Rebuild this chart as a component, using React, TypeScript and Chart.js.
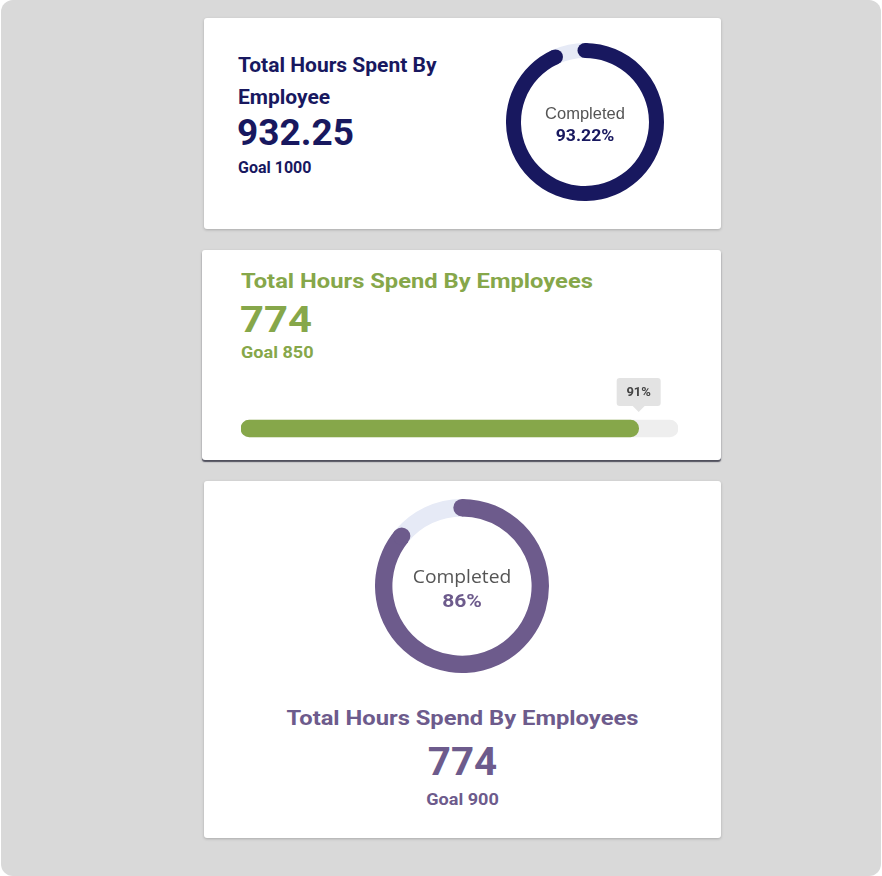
import React, { useEffect, useRef } from "react";
import { Chart, registerables } from "chart.js";

Chart.register(...registerables);

// ---- data ----
const card1Labels = ["Completed", "Remaining"];
const card1Values = [93.22, 6.78];
const card1Hours = "932.25";
const card1Goal = 1000;

const card2Labels = ["Progress"];
const card2Values = [91];
const card2Track = [100];
const card2Hours = "774";
const card2Goal = 850;

const card3Labels = ["Completed", "Remaining"];
const card3Values = [86, 14];
const card3Hours = "774";
const card3Goal = 900;

const NAVY = "#18185f";
const GREEN = "#86a74a";
const PURPLE = "#6d5b8c";
const TRACK = "#e6eaf6";

// draws round caps at both ends of the first arc (like a round line cap)
const capPlugin = {
  id: "capPlugin",
  afterDatasetsDraw(chart: any) {
    const meta = chart.getDatasetMeta(0);
    const el = meta.data[0];
    if (!el) return;
    const p = el.getProps(["x", "y", "startAngle", "endAngle", "innerRadius", "outerRadius"], true);
    const mid = (p.innerRadius + p.outerRadius) / 2;
    const rad = (p.outerRadius - p.innerRadius) / 2;
    const ctx = chart.ctx;
    ctx.save();
    ctx.fillStyle = chart.data.datasets[0].backgroundColor[0];
    for (const a of [p.startAngle, p.endAngle]) {
      ctx.beginPath();
      ctx.arc(p.x + Math.cos(a) * mid, p.y + Math.sin(a) * mid, rad, 0, Math.PI * 2);
      ctx.fill();
    }
    ctx.restore();
  },
};

function Donut(props: { values: number[]; labels: string[]; color: string; size: number; cutout: string }) {
  const ref = useRef<HTMLCanvasElement | null>(null);
  useEffect(() => {
    if (!ref.current) return;
    const chart = new Chart(ref.current, {
      type: "doughnut",
      data: {
        labels: props.labels,
        datasets: [
          {
            data: props.values,
            backgroundColor: [props.color, TRACK],
            borderWidth: 0,
          },
        ],
      },
      options: {
        responsive: false,
        animation: false,
        cutout: props.cutout,
        plugins: { legend: { display: false }, tooltip: { enabled: false } },
        events: [],
      },
      plugins: [capPlugin],
    });
    return () => chart.destroy();
  }, []);
  return <canvas ref={ref} width={props.size} height={props.size} style={{ width: props.size, height: props.size, display: "block" }} />;
}

const tagPlugin = {
  id: "tagPlugin",
  afterDatasetsDraw(chart: any) {
    const meta = chart.getDatasetMeta(0);
    const el = meta.data[0];
    if (!el) return;
    const ctx = chart.ctx;
    const v = chart.data.datasets[0].data[0];
    const cx = el.x;
    const w = 44, h = 28, top = 5;
    const left = cx - w / 2;
    ctx.save();
    ctx.fillStyle = "#e3e3e3";
    ctx.beginPath();
    const r = 3;
    ctx.moveTo(left + r, top);
    ctx.lineTo(left + w - r, top);
    ctx.quadraticCurveTo(left + w, top, left + w, top + r);
    ctx.lineTo(left + w, top + h - r);
    ctx.quadraticCurveTo(left + w, top + h, left + w - r, top + h);
    ctx.lineTo(cx + 6, top + h);
    ctx.lineTo(cx, top + h + 6);
    ctx.lineTo(cx - 6, top + h);
    ctx.lineTo(left + r, top + h);
    ctx.quadraticCurveTo(left, top + h, left, top + h - r);
    ctx.lineTo(left, top + r);
    ctx.quadraticCurveTo(left, top, left + r, top);
    ctx.closePath();
    ctx.fill();
    ctx.fillStyle = "#444";
    ctx.font = "bold 13px Roboto";
    ctx.textAlign = "center";
    ctx.textBaseline = "middle";
    ctx.fillText(v + "%", cx, top + h / 2 + 1);
    ctx.restore();
  },
};

function ProgressBar() {
  const ref = useRef<HTMLCanvasElement | null>(null);
  useEffect(() => {
    if (!ref.current) return;
    const chart = new Chart(ref.current, {
      type: "bar",
      data: {
        labels: card2Labels,
        datasets: [
          {
            data: card2Values,
            backgroundColor: GREEN,
            borderRadius: 9,
            borderSkipped: false,
            barThickness: 17,
            order: 0,
          },
          {
            data: card2Track,
            backgroundColor: "#eeeeee",
            borderRadius: 9,
            borderSkipped: false,
            barThickness: 17,
            grouped: false,
            order: 1,
          } as any,
        ],
      },
      options: {
        indexAxis: "y",
        responsive: false,
        animation: false,
        layout: { padding: { top: 41, bottom: 0, left: 0, right: 0 } },
        scales: {
          x: { min: 0, max: 100, display: false },
          y: { display: false },
        },
        plugins: { legend: { display: false }, tooltip: { enabled: false } },
        events: [],
      },
      plugins: [tagPlugin],
    });
    return () => chart.destroy();
  }, []);
  return <canvas ref={ref} width={437} height={70} style={{ width: 437, height: 70, display: "block" }} />;
}

const abs = (s: React.CSSProperties): React.CSSProperties => ({ position: "absolute", ...s });
const wideL: React.CSSProperties = { transform: "scaleX(1.13)", transformOrigin: "left center", whiteSpace: "nowrap" };
const wideC: React.CSSProperties = { transform: "scaleX(1.13)", transformOrigin: "center center", whiteSpace: "nowrap" };

export default function App() {
  useEffect(() => {
    document.body.style.margin = "0";
    document.body.style.background = "#ffffff";
  }, []);
  const card: React.CSSProperties = {
    position: "absolute",
    background: "#fff",
    borderRadius: 3,
    boxShadow: "0 1px 3px rgba(0,0,0,0.22)",
  };
  const roboto = "Roboto, 'Noto Sans', sans-serif";
  return (
    <div style={{ position: "relative", width: 882, height: 876, fontFamily: roboto }}>
      <div style={abs({ left: 1, top: 0, width: 880, height: 876, background: "#d9d9d9", borderRadius: 12 })} />

      {/* card 1 */}
      <div style={{ ...card, left: 204, top: 18, width: 517, height: 211 }} />
      <div style={abs({ left: 238, top: 49, width: 260, color: NAVY, fontWeight: 700, fontSize: 21, lineHeight: "32px" })}>
        Total Hours Spent By Employee
      </div>
      <div style={abs({ left: 237, top: 111, color: NAVY, fontWeight: 700, fontSize: 37, lineHeight: "44px" })}>{card1Hours}</div>
      <div style={abs({ left: 238, top: 158, color: NAVY, fontWeight: 700, fontSize: 16, lineHeight: "20px" })}>Goal {card1Goal}</div>
      <div style={abs({ left: 506, top: 43 })}>
        <Donut values={card1Values} labels={card1Labels} color={NAVY} size={158} cutout="81%" />
      </div>
      <div style={abs({ left: 505, top: 103, width: 160, textAlign: "center", color: "#555", fontFamily: "'Liberation Sans', Arial, sans-serif", fontSize: 16.5, lineHeight: "20px" })}>
        {card1Labels[0]}
      </div>
      <div style={abs({ left: 505, top: 126, width: 160, textAlign: "center", color: NAVY, fontWeight: 700, fontSize: 16, lineHeight: "20px", transform: "scaleX(1.1)" })}>
        {card1Values[0]}%
      </div>

      {/* card 2 */}
      <div style={{ ...card, left: 202, top: 250, width: 519, height: 210, boxShadow: "0 1px 3px rgba(0,0,0,0.2), 0 2px 1px rgba(40,40,60,0.7)" }} />
      <div style={abs({ left: 241, top: 268, color: GREEN, fontWeight: 700, fontSize: 21, lineHeight: "26px", ...wideL })}>
        Total Hours Spend By Employees
      </div>
      <div style={abs({ left: 240, top: 298, color: GREEN, fontWeight: 700, fontSize: 37, lineHeight: "44px", ...wideL })}>{card2Hours}</div>
      <div style={abs({ left: 241, top: 343, color: GREEN, fontWeight: 700, fontSize: 16, lineHeight: "20px", ...wideL })}>Goal {card2Goal}</div>
      <div style={abs({ left: 241, top: 373 })}>
        <ProgressBar />
      </div>

      {/* card 3 */}
      <div style={{ ...card, left: 204, top: 481, width: 517, height: 357 }} />
      <div style={abs({ left: 375, top: 499 })}>
        <Donut values={card3Values} labels={card3Labels} color={PURPLE} size={174} cutout="80%" />
      </div>
      <div style={abs({ left: 362, top: 564, width: 200, textAlign: "center", color: "#555", fontFamily: "'Open Sans', sans-serif", fontSize: 18, lineHeight: "24px", transform: "scaleX(1.07)" })}>
        {card3Labels[0]}
      </div>
      <div style={abs({ left: 362, top: 589, width: 200, textAlign: "center", color: PURPLE, fontWeight: 700, fontSize: 18, lineHeight: "24px", transform: "scaleX(1.17)" })}>
        {card3Values[0]}%
      </div>
      <div style={abs({ left: 204, top: 705, width: 517, textAlign: "center", color: PURPLE, fontWeight: 700, fontSize: 21, lineHeight: "26px", ...wideC })}>
        Total Hours Spend By Employees
      </div>
      <div style={abs({ left: 204, top: 740, width: 517, textAlign: "center", color: PURPLE, fontWeight: 700, fontSize: 38, lineHeight: "44px", transform: "scaleX(1.06)" })}>{card3Hours}</div>
      <div style={abs({ left: 204, top: 790, width: 517, textAlign: "center", color: PURPLE, fontWeight: 700, fontSize: 16, lineHeight: "20px", ...wideC })}>Goal {card3Goal}</div>
    </div>
  );
}
